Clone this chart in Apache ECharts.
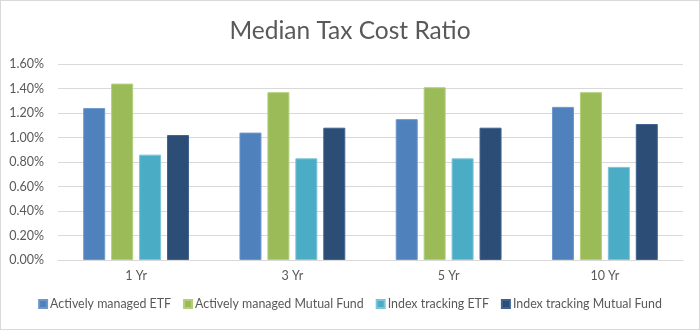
<!DOCTYPE html>
<html><head><meta charset="utf-8">
<script src="https://cdn.jsdelivr.net/npm/echarts@6/dist/echarts.min.js"></script>
<style>html,body{margin:0;padding:0;background:#fff}#c{width:698px;height:328px;border:1px solid #d9d9d9}</style>
</head><body><div id="c"></div>
<script>
const categories = ['1 Yr', '3 Yr', '5 Yr', '10 Yr'];
const activeETF = [1.24, 1.04, 1.15, 1.25];
const activeMF = [1.44, 1.37, 1.41, 1.37];
const indexETF = [0.86, 0.83, 0.83, 0.76];
const indexMF = [1.02, 1.08, 1.08, 1.11];
const seriesNames = ['Actively managed ETF', 'Actively managed Mutual Fund', 'Index tracking ETF', 'Index tracking Mutual Fund'];
const yTicks = [0, 0.2, 0.4, 0.6, 0.8, 1.0, 1.2, 1.4, 1.6];

const colors = ['#4F81BD', '#9BBB59', '#4BACC6', '#2C4D75'];
const borders = ['#6d97cc', '#b3cf7c', '#7cc5d8', '#3f6391'];
const font = 'Lato';
const chart = echarts.init(document.getElementById('c'));
const data = [activeETF, activeMF, indexETF, indexMF];
chart.setOption({
  animation: false,
  title: { text: 'Median Tax Cost Ratio', left: 'center', top: 13,
    textStyle: { fontFamily: font, fontSize: 24.5, fontWeight: 'normal', color: '#595959' } },
  legend: { bottom: 14, left: 'center', itemWidth: 8, itemHeight: 8, itemGap: 12,
    icon: 'rect',
    textStyle: { fontFamily: font, fontSize: 12.4, color: '#595959', padding: [0, 0, 0, -2] },
    data: seriesNames },
  grid: { left: 57, right: 16, top: 63, bottom: 69 },
  xAxis: { type: 'category', data: categories,
    axisLine: { lineStyle: { color: '#d9d9d9' } }, axisTick: { show: false },
    axisLabel: { fontFamily: font, fontSize: 12.5, color: '#595959', margin: 9 } },
  yAxis: { type: 'value', min: 0, max: 1.6, interval: 0.2,
    axisLine: { show: false }, axisTick: { show: false },
    splitLine: { lineStyle: { color: '#d9d9d9' } },
    axisLabel: { fontFamily: font, fontSize: 12.5, color: '#595959', margin: 14,
      formatter: v => v.toFixed(2) + '%' } },
  series: seriesNames.map((n, i) => ({
    name: n, type: 'bar', data: data[i], barWidth: 22, barGap: '27%',
    itemStyle: { color: colors[i], borderColor: borders[i], borderWidth: 1 }
  }))
});
</script></body></html>
